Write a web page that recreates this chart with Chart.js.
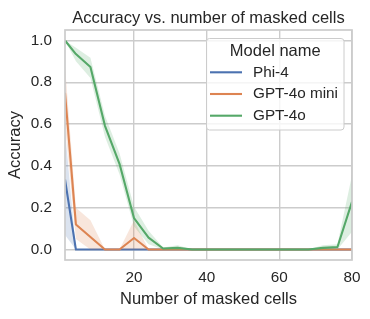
<!DOCTYPE html>
<html>
<head>
<meta charset="utf-8">
<script src="https://cdn.jsdelivr.net/npm/chart.js@4.4.1/dist/chart.umd.min.js"></script>
<style>
  html, body { margin: 0; padding: 0; background: #ffffff; }
  #wrap { width: 370px; height: 319px; }
</style>
</head>
<body>
<div id="wrap"><canvas id="c" width="370" height="319"></canvas></div>
<script>
// ---- data ----
const chartTitle = "Accuracy vs. number of masked cells";
const xAxisLabel = "Number of masked cells";
const yAxisLabel = "Accuracy";
const legendTitle = "Model name";
const seriesNames = ["Phi-4", "GPT-4o mini", "GPT-4o"];
const seriesColors = ["#4c72b0", "#dd8452", "#55a868"];

const xValues = [1, 4, 8, 12, 16, 20, 24, 28, 32, 36, 40, 44, 48, 52, 56, 60, 64, 68, 72, 76, 80];

const phi4Mean = [0.335, 0, 0, 0, 0, 0, 0, 0, 0, 0, 0, 0, 0, 0, 0, 0, 0, 0, 0, 0, 0];
const phi4Lo   = [0.07, 0, 0, 0, 0, 0, 0, 0, 0, 0, 0, 0, 0, 0, 0, 0, 0, 0, 0, 0, 0];
const phi4Hi   = [0.57, 0, 0, 0, 0, 0, 0, 0, 0, 0, 0, 0, 0, 0, 0, 0, 0, 0, 0, 0, 0];

const miniMean = [0.75, 0.12, 0.06, 0, 0, 0.055, 0, 0, 0, 0, 0, 0, 0, 0, 0, 0, 0, 0, 0, 0, 0];
const miniLo   = [0.60, 0.05, 0, 0, 0, 0, 0, 0, 0, 0, 0, 0, 0, 0, 0, 0, 0, 0, 0, 0, 0];
const miniHi   = [0.88, 0.20, 0.14, 0, 0, 0.14, 0, 0, 0, 0, 0, 0, 0, 0, 0, 0, 0, 0, 0, 0, 0];

const gpt4oMean = [1.0, 0.935, 0.873, 0.592, 0.41, 0.15, 0.057, 0.005, 0.008, 0, 0, 0, 0, 0, 0, 0, 0, 0, 0.008, 0.012, 0.228];
const gpt4oLo   = [1.0, 0.90, 0.82, 0.54, 0.36, 0.11, 0.025, 0, 0, 0, 0, 0, 0, 0, 0, 0, 0, 0, 0, 0, 0.085];
const gpt4oHi   = [1.0, 0.965, 0.917, 0.64, 0.46, 0.205, 0.09, 0.01, 0.02, 0, 0, 0, 0, 0, 0, 0, 0, 0, 0.02, 0.025, 0.355];

const xTickValues = [20, 40, 60, 80];
const yTickValues = [0.0, 0.2, 0.4, 0.6, 0.8, 1.0];

// ---- build ----
const FONT = "'Liberation Sans', Arial, sans-serif";
const TEXT = "#262626";
const GRID = "#cccccc";

function pts(arr) { return xValues.map((x, i) => ({ x: x, y: arr[i] })); }
function hexA(hex, a) {
  const n = parseInt(hex.slice(1), 16);
  return `rgba(${(n >> 16) & 255},${(n >> 8) & 255},${n & 255},${a})`;
}

const series = [
  { mean: phi4Mean, lo: phi4Lo, hi: phi4Hi },
  { mean: miniMean, lo: miniLo, hi: miniHi },
  { mean: gpt4oMean, lo: gpt4oLo, hi: gpt4oHi }
];

const datasets = [];
series.forEach((s, k) => {
  const col = seriesColors[k];
  const base = 100 - k * 10;
  datasets.push({ label: seriesNames[k] + " hi", data: pts(s.hi), borderWidth: 0, borderColor: 'transparent',
    pointRadius: 0, fill: false, order: base + 2, tension: 0 });
  datasets.push({ label: seriesNames[k] + " lo", data: pts(s.lo), borderWidth: 0, borderColor: 'transparent',
    pointRadius: 0, fill: '-1', backgroundColor: hexA(col, 0.2), order: base + 1, tension: 0 });
  datasets.push({ label: seriesNames[k], data: pts(s.mean), borderWidth: 2.1, borderColor: col,
    pointRadius: 0, fill: false, order: base, tension: 0, borderJoinStyle: 'round', borderCapStyle: 'butt' });
});

const decorPlugin = {
  id: 'decor',
  afterDatasetsDraw(chart) {
    const { ctx, chartArea: a } = chart;
    ctx.save();
    ctx.strokeStyle = GRID;
    ctx.lineWidth = 1.7;
    ctx.strokeRect(a.left, a.top, a.right - a.left, a.bottom - a.top);
    ctx.restore();
  },
  afterDraw(chart) {
    const { ctx, chartArea: a } = chart;
    ctx.save();
    // title
    ctx.fillStyle = TEXT;
    ctx.font = `16.5px ${FONT}`;
    ctx.textAlign = 'center';
    ctx.textBaseline = 'alphabetic';
    ctx.fillText(chartTitle, (a.left + a.right) / 2, 22.5);

    // legend
    const bx = 206.5, by = 38.5, bw = 137.5, bh = 91.5, r = 3;
    ctx.beginPath();
    ctx.moveTo(bx + r, by);
    ctx.lineTo(bx + bw - r, by);
    ctx.quadraticCurveTo(bx + bw, by, bx + bw, by + r);
    ctx.lineTo(bx + bw, by + bh - r);
    ctx.quadraticCurveTo(bx + bw, by + bh, bx + bw - r, by + bh);
    ctx.lineTo(bx + r, by + bh);
    ctx.quadraticCurveTo(bx, by + bh, bx, by + bh - r);
    ctx.lineTo(bx, by + r);
    ctx.quadraticCurveTo(bx, by, bx + r, by);
    ctx.closePath();
    ctx.fillStyle = 'rgba(255,255,255,0.8)';
    ctx.fill();
    ctx.strokeStyle = GRID;
    ctx.lineWidth = 1;
    ctx.stroke();

    ctx.fillStyle = TEXT;
    ctx.font = `16.5px ${FONT}`;
    ctx.textAlign = 'center';
    ctx.textBaseline = 'middle';
    ctx.fillText(legendTitle, bx + bw / 2, 51);

    const rowY = [72.3, 94, 115.7];
    seriesNames.forEach((name, k) => {
      ctx.strokeStyle = seriesColors[k];
      ctx.lineWidth = 2.1;
      ctx.beginPath();
      ctx.moveTo(210, rowY[k]);
      ctx.lineTo(242, rowY[k]);
      ctx.stroke();
      ctx.fillStyle = TEXT;
      ctx.font = `15.3px ${FONT}`;
      ctx.textAlign = 'left';
      ctx.textBaseline = 'middle';
      ctx.fillText(name, 253, rowY[k]);
    });
    ctx.restore();
  }
};

Chart.defaults.font.family = FONT;
Chart.defaults.color = TEXT;

new Chart(document.getElementById('c'), {
  type: 'line',
  data: { datasets: datasets },
  plugins: [decorPlugin],
  options: {
    responsive: false,
    animation: false,
    devicePixelRatio: 1,
    layout: { padding: { top: 30, right: 18, bottom: 0, left: 0 } },
    plugins: { legend: { display: false }, tooltip: { enabled: false }, title: { display: false } },
    elements: { line: { tension: 0 } },
    scales: {
      x: {
        type: 'linear', min: 1, max: 80,
        afterBuildTicks(scale) { scale.ticks = xTickValues.map(v => ({ value: v })); },
        afterFit(scale) { scale.height = 59; },
        grid: { color: GRID, lineWidth: 1.4, drawTicks: false },
        border: { display: false },
        ticks: { font: { size: 15.3 }, color: TEXT, padding: 9, maxRotation: 0,
          callback: v => String(v) },
        title: { display: true, text: xAxisLabel, font: { size: 16.5 }, color: TEXT,
          padding: { top: 0, bottom: 9.6 } }
      },
      y: {
        type: 'linear', min: -0.05, max: 1.05,
        afterBuildTicks(scale) { scale.ticks = yTickValues.map(v => ({ value: v })); },
        afterFit(scale) { scale.width = 65; },
        grid: { color: GRID, lineWidth: 1.4, drawTicks: false },
        border: { display: false },
        ticks: { font: { size: 15.3 }, color: TEXT, padding: 13,
          callback: v => Number(v).toFixed(1) },
        title: { display: true, text: yAxisLabel, font: { size: 16.5 }, color: TEXT,
          padding: { top: 5.3, bottom: 0 } }
      }
    }
  }
});
</script>
</body>
</html>
